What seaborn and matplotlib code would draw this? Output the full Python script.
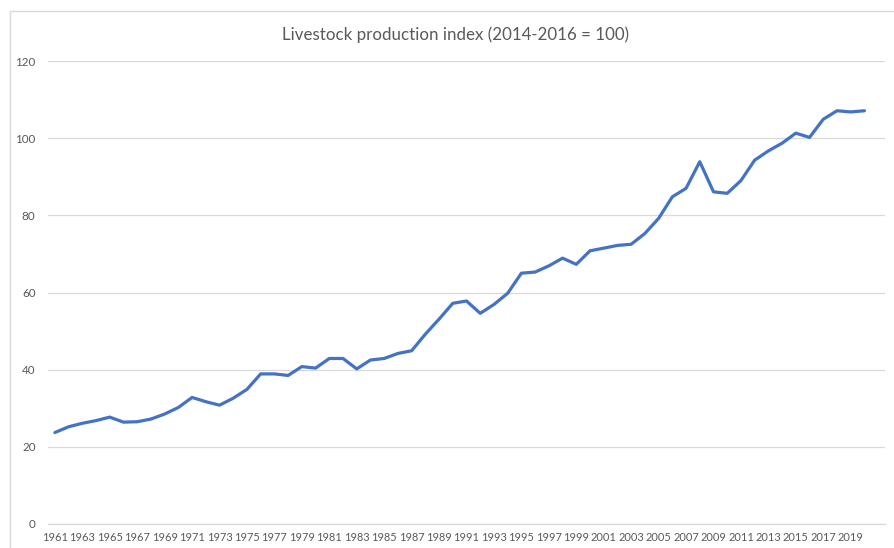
import matplotlib
matplotlib.use("Agg")
import matplotlib.pyplot as plt
import seaborn as sns
import pandas as pd
from matplotlib.patches import Rectangle

years = list(range(1961, 2021))
index_values = [
    23.7, 25.2, 26.1, 26.8, 27.7, 26.4, 26.5, 27.2, 28.5, 30.2,
    32.8, 31.7, 30.8, 32.6, 34.9, 38.9, 38.9, 38.5, 40.8, 40.4,
    42.9, 42.9, 40.2, 42.5, 42.9, 44.2, 44.9, 49.2, 53.1, 57.2,
    57.8, 54.6, 56.9, 59.8, 65.0, 65.3, 66.9, 68.9, 67.3, 70.8,
    71.5, 72.2, 72.5, 75.3, 79.2, 84.8, 87.0, 93.9, 86.1, 85.7,
    89.0, 94.3, 96.7, 98.7, 101.3, 100.2, 104.9, 107.1, 106.8, 107.1,
]
y_ticks = [0, 20, 40, 60, 80, 100, 120]
x_tick_years = list(range(1961, 2021, 2))
title = "Livestock production index (2014-2016 = 100)"

df = pd.DataFrame({"Year": years, "Index": index_values})

sns.set_style("white")
plt.rcParams["font.family"] = ["Lato", "DejaVu Sans"]

W, H = 895, 548
fig = plt.figure(figsize=(W / 100, H / 100), dpi=100)
ax = fig.add_axes([48 / W, (H - 524) / H, (885 - 48) / W, (524 - 61) / H])

sns.lineplot(data=df, x="Year", y="Index", ax=ax, color="#4472C4",
             linewidth=2.3, solid_capstyle="round", solid_joinstyle="round",
             zorder=3)

ax.set_xlim(1960.5, 2021.5)
ax.set_ylim(0, 120)
ax.set_yticks(y_ticks)
ax.set_xticks(x_tick_years)
ax.set_xticklabels([str(y) for y in x_tick_years])
ax.set_xlabel("")
ax.set_ylabel("")
ax.grid(axis="y", color="#d9d9d9", linewidth=0.9)
ax.grid(axis="x", visible=False)
for s in ["top", "right", "left"]:
    ax.spines[s].set_visible(False)
ax.spines["bottom"].set_color("#d9d9d9")
ax.spines["bottom"].set_linewidth(0.9)
ax.tick_params(axis="both", length=0, colors="#595959")
ax.tick_params(axis="y", pad=9, labelsize=8.4)
ax.tick_params(axis="x", pad=6, labelsize=7.9)

fig.text(456 / W, 1 - 35 / H, title, ha="center", va="center",
         fontsize=12.2, color="#595959")

# chart-area border (cropped on the right and bottom)
fig.patches.append(Rectangle((10 / W, -0.05), 1.1, (H - 11) / H + 0.05,
                             transform=fig.transFigure, fill=False,
                             edgecolor="#d9d9d9", linewidth=1.0))

fig.savefig("out.png", dpi=100)
